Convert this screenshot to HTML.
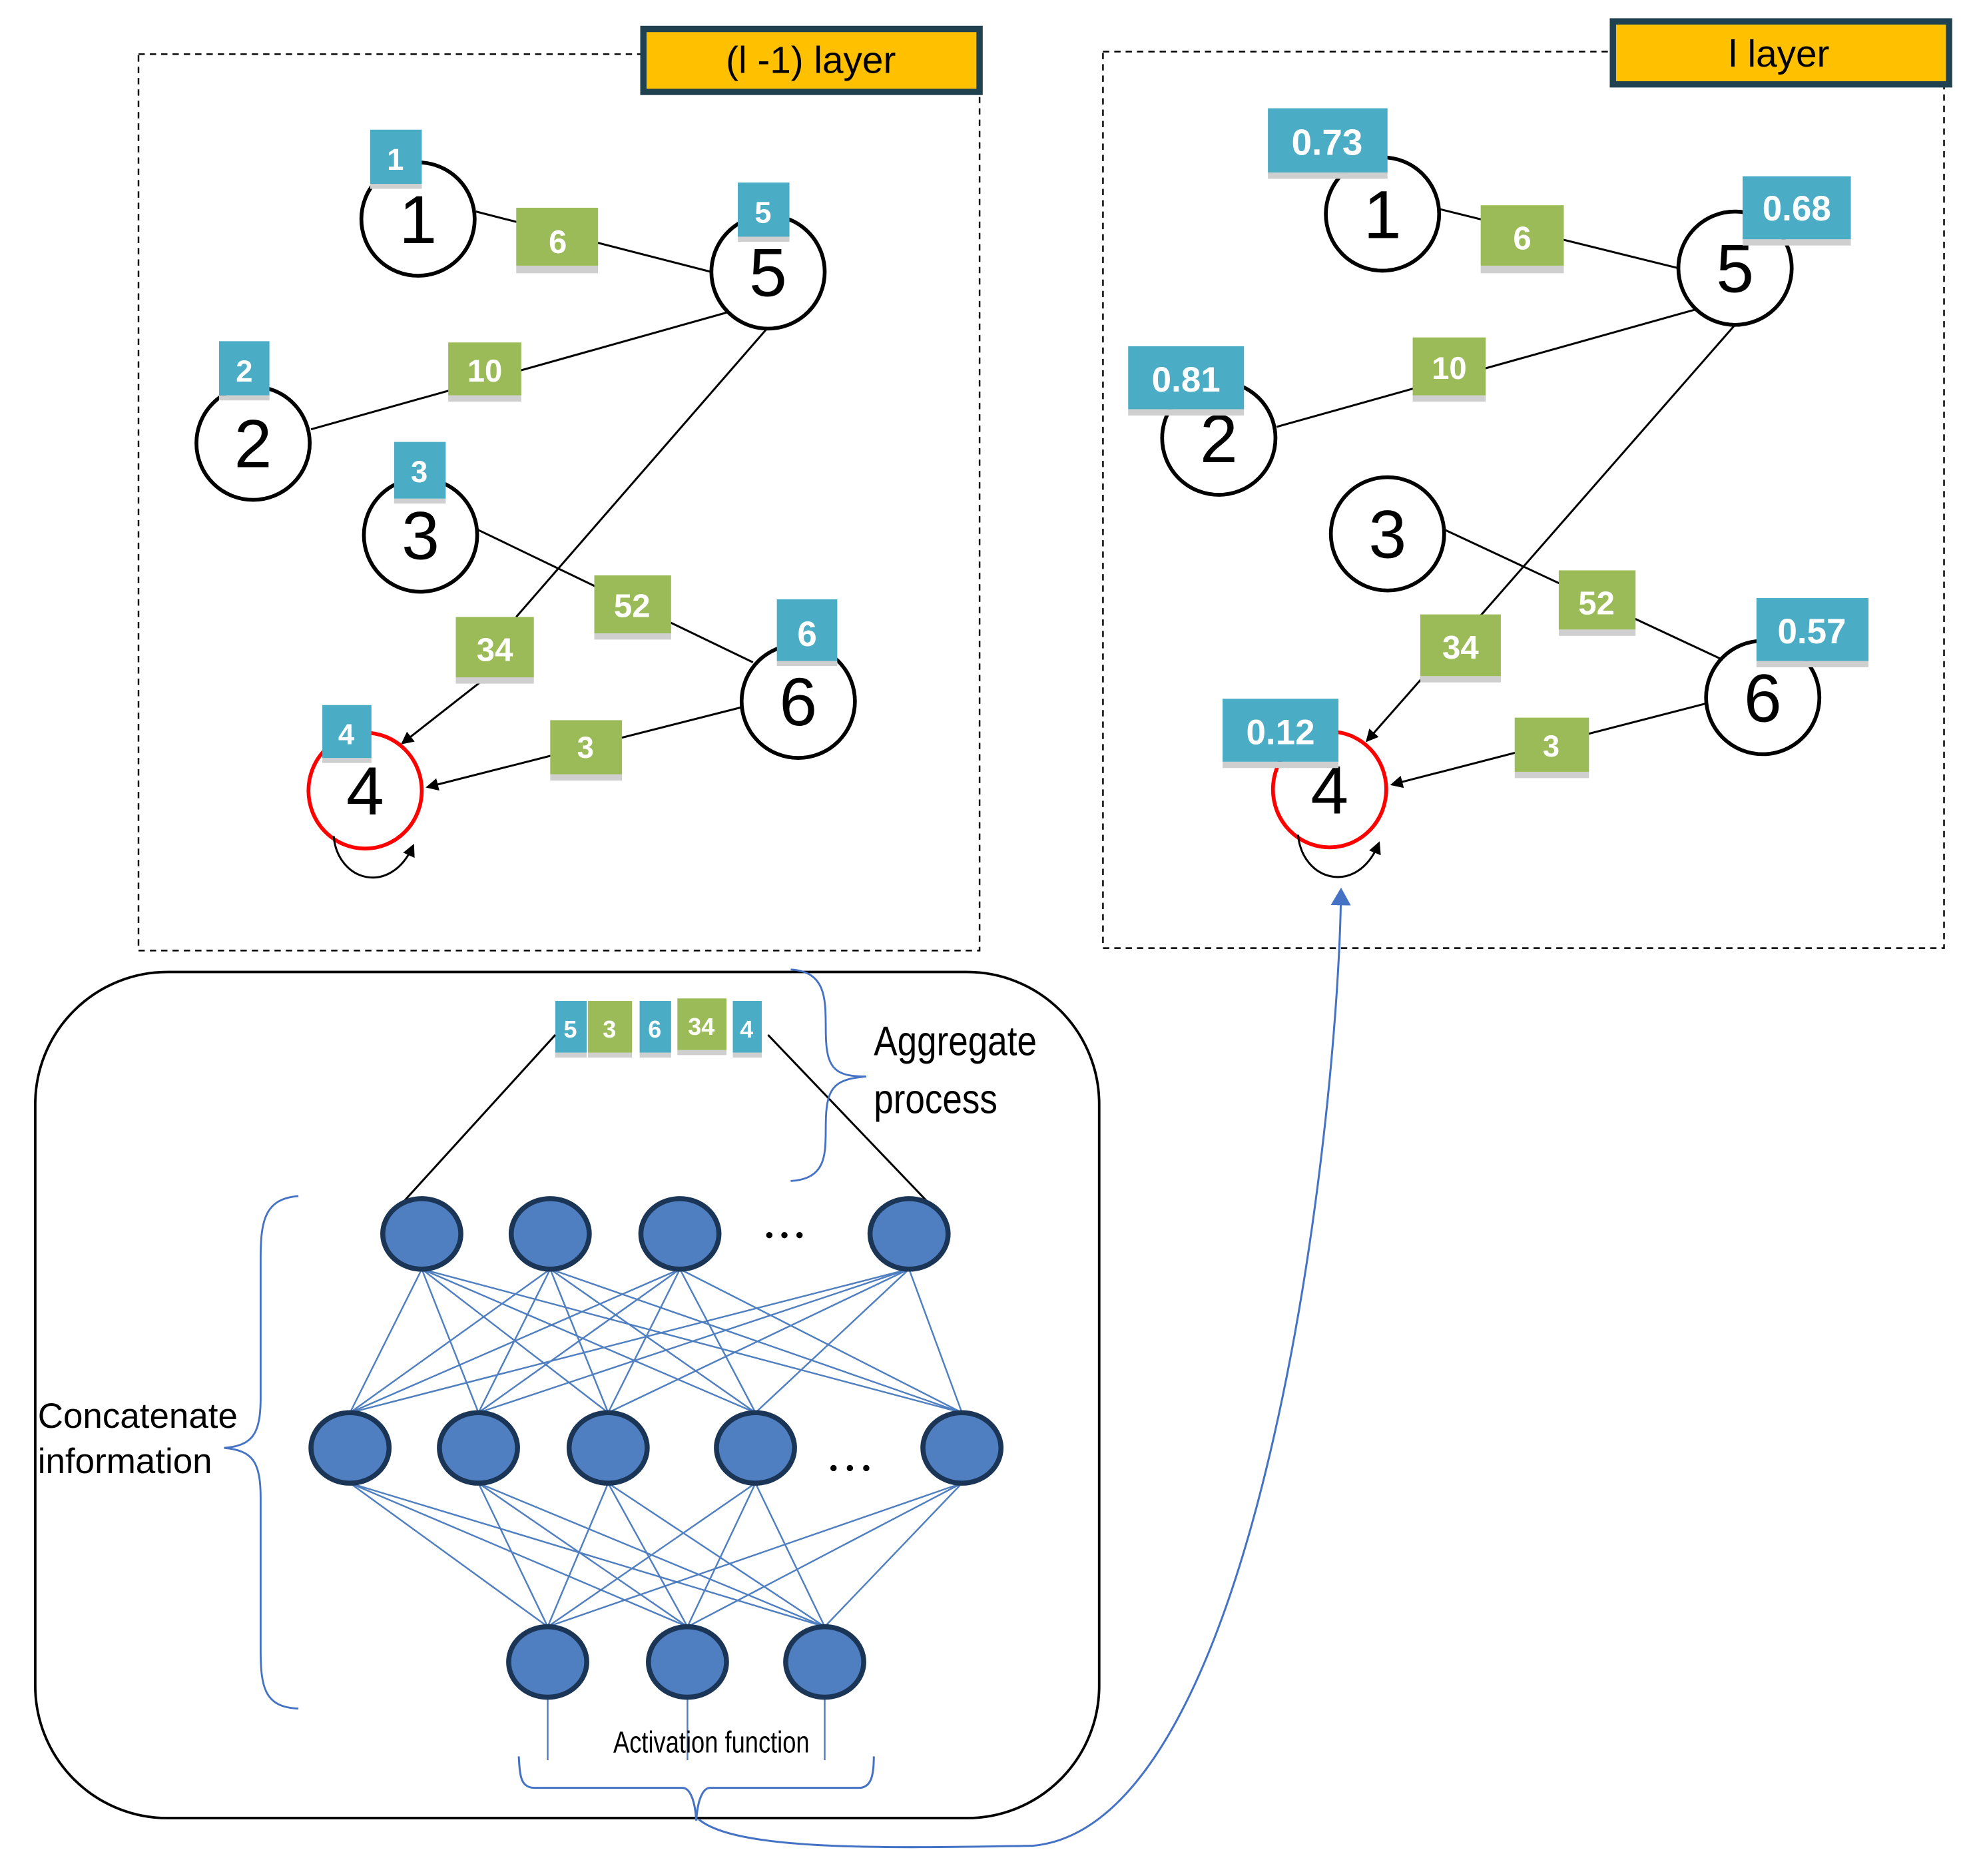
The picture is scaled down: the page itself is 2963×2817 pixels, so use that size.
<!DOCTYPE html>
<html><head><meta charset="utf-8"><style>
html,body{margin:0;padding:0;background:#fff;}
svg{display:block;}
text{font-family:"Liberation Sans",sans-serif;}
.bl{fill:#4BACC6;}
.gr{fill:#9BBB59;}
.sh{fill:#cfcfcf;}
.lt{fill:#fff;font-weight:bold;text-anchor:middle;}
.nd{fill:#fff;stroke:#000;stroke-width:3;}
.nt{font-size:54px;text-anchor:middle;fill:#000;}
.e{stroke:#000;stroke-width:1.6;fill:none;}
.n{fill:#4F7FC0;stroke:#1B3557;stroke-width:4;}
.w{stroke:#4F7FC0;stroke-width:1.3;}
</style></head><body>
<svg width="2963" height="2817" viewBox="0 0 1567 1490" preserveAspectRatio="none" xmlns="http://www.w3.org/2000/svg">
<defs>
<marker id="ah" markerWidth="10" markerHeight="10" refX="8" refY="5" orient="auto" markerUnits="userSpaceOnUse"><path d="M0,0 L10,5 L0,10 z" fill="#000"/></marker>
<marker id="bh" markerWidth="14" markerHeight="16" refX="7" refY="8" orient="auto" markerUnits="userSpaceOnUse"><path d="M0,0 L14,8 L0,16 z" fill="#4472C4"/></marker>
</defs>

<!-- LEFT PANEL -->
<rect x="110" y="43" width="668" height="712" fill="none" stroke="#000" stroke-width="1.3" stroke-dasharray="5,4"/>
<rect x="511" y="23" width="267" height="50" fill="#FFC000" stroke="#1F4150" stroke-width="5"/>
<text x="644" y="58" font-size="30" text-anchor="middle">(l -1) layer</text>

<line class="e" x1="378" y1="168" x2="565" y2="216"/>
<line class="e" x1="247" y1="341" x2="578" y2="248"/>
<line class="e" x1="610" y1="260" x2="410" y2="490"/>
<line class="e" x1="385" y1="539" x2="320" y2="590" marker-end="url(#ah)"/>
<line class="e" x1="380" y1="421" x2="598" y2="526"/>
<line class="e" x1="588" y1="562" x2="340" y2="625" marker-end="url(#ah)"/>

<circle class="nd" cx="332" cy="174" r="45"/><text class="nt" x="332" y="193">1</text>
<circle class="nd" cx="610" cy="216" r="45"/><text class="nt" x="610" y="235">5</text>
<circle class="nd" cx="201" cy="352" r="45"/><text class="nt" x="201" y="371">2</text>
<circle class="nd" cx="334" cy="425" r="45"/><text class="nt" x="334" y="444">3</text>
<circle class="nd" cx="634" cy="557" r="45"/><text class="nt" x="634" y="576">6</text>
<ellipse cx="290" cy="628" rx="45" ry="46" fill="#fff" stroke="#f00" stroke-width="3"/><text class="nt" x="290" y="647">4</text>
<path class="e" d="M265,664 C268,700 310,712 328,672" marker-end="url(#ah)"/>

<g>
<rect class="sh" x="410" y="211" width="65" height="6"/><rect class="gr" x="410" y="165" width="65" height="46"/><text class="lt" x="443" y="201" font-size="26">6</text>
<rect class="sh" x="356" y="314" width="58" height="5"/><rect class="gr" x="356" y="272" width="58" height="42"/><text class="lt" x="385" y="303" font-size="25">10</text>
<rect class="sh" x="472" y="503" width="61" height="5"/><rect class="gr" x="472" y="457" width="61" height="46"/><text class="lt" x="502" y="490" font-size="26">52</text>
<rect class="sh" x="362" y="538" width="62" height="5"/><rect class="gr" x="362" y="490" width="62" height="48"/><text class="lt" x="393" y="525" font-size="26">34</text>
<rect class="sh" x="437" y="615" width="57" height="5"/><rect class="gr" x="437" y="572" width="57" height="43"/><text class="lt" x="465" y="602" font-size="24">3</text>

<rect class="sh" x="294" y="146" width="41" height="4"/><rect class="bl" x="294" y="103" width="41" height="43"/><text class="lt" x="314" y="135" font-size="24">1</text>
<rect class="sh" x="586" y="188" width="41" height="4"/><rect class="bl" x="586" y="145" width="41" height="43"/><text class="lt" x="606" y="177" font-size="24">5</text>
<rect class="sh" x="174" y="314" width="40" height="4"/><rect class="bl" x="174" y="271" width="40" height="43"/><text class="lt" x="194" y="303" font-size="24">2</text>
<rect class="sh" x="313" y="396" width="41" height="4"/><rect class="bl" x="313" y="351" width="41" height="45"/><text class="lt" x="333" y="383" font-size="24">3</text>
<rect class="sh" x="617" y="525" width="48" height="4"/><rect class="bl" x="617" y="476" width="48" height="49"/><text class="lt" x="641" y="513" font-size="28">6</text>
<rect class="sh" x="256" y="602" width="39" height="4"/><rect class="bl" x="256" y="560" width="39" height="42"/><text class="lt" x="275" y="591" font-size="23">4</text>
</g>

<!-- RIGHT PANEL -->
<rect x="876" y="41" width="668" height="712" fill="none" stroke="#000" stroke-width="1.3" stroke-dasharray="5,4"/>
<rect x="1281" y="17" width="267" height="50" fill="#FFC000" stroke="#1F4150" stroke-width="5"/>
<text x="1413" y="53" font-size="30" text-anchor="middle">l layer</text>

<line class="e" x1="1143" y1="166" x2="1333" y2="213"/>
<line class="e" x1="1014" y1="339" x2="1346" y2="246"/>
<line class="e" x1="1378" y1="258" x2="1175" y2="490"/>
<line class="e" x1="1130" y1="538" x2="1086" y2="588" marker-end="url(#ah)"/>
<line class="e" x1="1148" y1="421" x2="1366" y2="523"/>
<line class="e" x1="1354" y1="559" x2="1106" y2="623" marker-end="url(#ah)"/>

<circle class="nd" cx="1098" cy="170" r="45"/><text class="nt" x="1098" y="189">1</text>
<circle class="nd" cx="1378" cy="213" r="45"/><text class="nt" x="1378" y="232">5</text>
<circle class="nd" cx="968" cy="348" r="45"/><text class="nt" x="968" y="367">2</text>
<circle class="nd" cx="1102" cy="424" r="45"/><text class="nt" x="1102" y="443">3</text>
<circle class="nd" cx="1400" cy="554" r="45"/><text class="nt" x="1400" y="573">6</text>
<ellipse cx="1056" cy="627" rx="45" ry="46" fill="#fff" stroke="#f00" stroke-width="3"/><text class="nt" x="1056" y="646">4</text>
<path class="e" d="M1031,663 C1034,700 1078,712 1095,670" marker-end="url(#ah)"/>

<g>
<rect class="sh" x="1176" y="211" width="66" height="6"/><rect class="gr" x="1176" y="163" width="66" height="48"/><text class="lt" x="1209" y="198" font-size="26">6</text>
<rect class="sh" x="1122" y="314" width="58" height="5"/><rect class="gr" x="1122" y="268" width="58" height="46"/><text class="lt" x="1151" y="301" font-size="25">10</text>
<rect class="sh" x="1238" y="500" width="61" height="5"/><rect class="gr" x="1238" y="453" width="61" height="47"/><text class="lt" x="1268" y="488" font-size="26">52</text>
<rect class="sh" x="1128" y="537" width="64" height="5"/><rect class="gr" x="1128" y="488" width="64" height="49"/><text class="lt" x="1160" y="523" font-size="26">34</text>
<rect class="sh" x="1203" y="613" width="59" height="5"/><rect class="gr" x="1203" y="570" width="59" height="43"/><text class="lt" x="1232" y="601" font-size="24">3</text>

<rect class="sh" x="1007" y="137" width="95" height="5"/><rect class="bl" x="1007" y="86" width="95" height="51"/><text class="lt" x="1054" y="123" font-size="29">0.73</text>
<rect class="sh" x="1384" y="190" width="86" height="5"/><rect class="bl" x="1384" y="140" width="86" height="50"/><text class="lt" x="1427" y="175" font-size="28">0.68</text>
<rect class="sh" x="896" y="325" width="92" height="5"/><rect class="bl" x="896" y="275" width="92" height="50"/><text class="lt" x="942" y="311" font-size="28">0.81</text>
<rect class="sh" x="1395" y="525" width="89" height="5"/><rect class="bl" x="1395" y="475" width="89" height="50"/><text class="lt" x="1439" y="511" font-size="28">0.57</text>
<rect class="sh" x="971" y="605" width="92" height="5"/><rect class="bl" x="971" y="555" width="92" height="50"/><text class="lt" x="1017" y="591" font-size="28">0.12</text>
</g>

<!-- BOTTOM BOX -->
<rect x="28" y="772" width="845" height="672" rx="105" ry="105" fill="none" stroke="#000" stroke-width="2"/>

<g>
<rect class="sh" x="441" y="836" width="25" height="4"/><rect class="bl" x="441" y="795" width="25" height="41"/><text class="lt" x="453" y="824" font-size="19">5</text>
<rect class="sh" x="467" y="836" width="35" height="4"/><rect class="gr" x="467" y="795" width="35" height="41"/><text class="lt" x="484" y="824" font-size="19">3</text>
<rect class="sh" x="508" y="836" width="25" height="4"/><rect class="bl" x="508" y="795" width="25" height="41"/><text class="lt" x="520" y="824" font-size="19">6</text>
<rect class="sh" x="538" y="834" width="39" height="4"/><rect class="gr" x="538" y="793" width="39" height="41"/><text class="lt" x="557" y="822" font-size="19">34</text>
<rect class="sh" x="582" y="836" width="23" height="4"/><rect class="bl" x="582" y="795" width="23" height="41"/><text class="lt" x="593" y="824" font-size="19">4</text>
</g>
<line class="e" x1="441" y1="822" x2="320" y2="955"/>
<line class="e" x1="610" y1="822" x2="740" y2="958"/>

<path d="M628,770 C660,772 655,800 656,825 C657,850 665,855 688,855 C665,857 657,862 656,887 C655,912 660,936 628,938" fill="none" stroke="#4472C4" stroke-width="1.5"/>
<text x="694" y="838" font-size="33" transform="translate(694,0) scale(0.85,1) translate(-694,0)">Aggregate</text>
<text x="694" y="884" font-size="33" transform="translate(694,0) scale(0.85,1) translate(-694,0)">process</text>

<path d="M237,950 C210,952 207,970 207,1000 L207,1110 C207,1140 200,1148 178,1150 C200,1152 207,1160 207,1190 L207,1310 C207,1340 210,1356 237,1357" fill="none" stroke="#4472C4" stroke-width="1.5"/>
<text x="30" y="1134" font-size="28">Concatenate</text>
<text x="30" y="1170" font-size="28">information</text>

<!-- weights -->
<g class="w">
<line x1="335" y1="1008" x2="278" y2="1122"/><line x1="335" y1="1008" x2="380" y2="1122"/><line x1="335" y1="1008" x2="483" y2="1122"/><line x1="335" y1="1008" x2="600" y2="1122"/><line x1="335" y1="1008" x2="764" y2="1122"/>
<line x1="437" y1="1008" x2="278" y2="1122"/><line x1="437" y1="1008" x2="380" y2="1122"/><line x1="437" y1="1008" x2="483" y2="1122"/><line x1="437" y1="1008" x2="600" y2="1122"/><line x1="437" y1="1008" x2="764" y2="1122"/>
<line x1="540" y1="1008" x2="278" y2="1122"/><line x1="540" y1="1008" x2="380" y2="1122"/><line x1="540" y1="1008" x2="483" y2="1122"/><line x1="540" y1="1008" x2="600" y2="1122"/><line x1="540" y1="1008" x2="764" y2="1122"/>
<line x1="722" y1="1008" x2="278" y2="1122"/><line x1="722" y1="1008" x2="380" y2="1122"/><line x1="722" y1="1008" x2="483" y2="1122"/><line x1="722" y1="1008" x2="600" y2="1122"/><line x1="722" y1="1008" x2="764" y2="1122"/>
<line x1="278" y1="1178" x2="435" y2="1292"/><line x1="278" y1="1178" x2="546" y2="1292"/><line x1="278" y1="1178" x2="655" y2="1292"/>
<line x1="380" y1="1178" x2="435" y2="1292"/><line x1="380" y1="1178" x2="546" y2="1292"/><line x1="380" y1="1178" x2="655" y2="1292"/>
<line x1="483" y1="1178" x2="435" y2="1292"/><line x1="483" y1="1178" x2="546" y2="1292"/><line x1="483" y1="1178" x2="655" y2="1292"/>
<line x1="600" y1="1178" x2="435" y2="1292"/><line x1="600" y1="1178" x2="546" y2="1292"/><line x1="600" y1="1178" x2="655" y2="1292"/>
<line x1="764" y1="1178" x2="435" y2="1292"/><line x1="764" y1="1178" x2="546" y2="1292"/><line x1="764" y1="1178" x2="655" y2="1292"/>
<line x1="435" y1="1348" x2="435" y2="1398"/><line x1="546" y1="1348" x2="546" y2="1398"/><line x1="655" y1="1348" x2="655" y2="1398"/>
</g>

<ellipse class="n" cx="335" cy="980" rx="31" ry="28"/>
<ellipse class="n" cx="437" cy="980" rx="31" ry="28"/>
<ellipse class="n" cx="540" cy="980" rx="31" ry="28"/>
<ellipse class="n" cx="722" cy="980" rx="31" ry="28"/>
<g fill="#000"><circle cx="611" cy="981" r="2.5"/><circle cx="623" cy="981" r="2.5"/><circle cx="635" cy="981" r="2.5"/></g>

<ellipse class="n" cx="278" cy="1150" rx="31" ry="28"/>
<ellipse class="n" cx="380" cy="1150" rx="31" ry="28"/>
<ellipse class="n" cx="483" cy="1150" rx="31" ry="28"/>
<ellipse class="n" cx="600" cy="1150" rx="31" ry="28"/>
<ellipse class="n" cx="764" cy="1150" rx="31" ry="28"/>
<g fill="#000"><circle cx="662" cy="1166" r="2.5"/><circle cx="675" cy="1166" r="2.5"/><circle cx="688" cy="1166" r="2.5"/></g>

<ellipse class="n" cx="435" cy="1320" rx="31" ry="28"/>
<ellipse class="n" cx="546" cy="1320" rx="31" ry="28"/>
<ellipse class="n" cx="655" cy="1320" rx="31" ry="28"/>

<text x="565" y="1392" font-size="24" text-anchor="middle" transform="translate(565,0) scale(0.8,1) translate(-565,0)">Activation  function</text>

<path d="M412,1395 C413,1410 413,1420 425,1420 L542,1420 C548,1420 552,1430 553,1446 C554,1430 558,1420 564,1420 L682,1420 C692,1420 694,1410 694,1395" fill="none" stroke="#4472C4" stroke-width="1.6"/>
<path d="M555,1445 C585,1470 700,1468 820,1466 C1000,1450 1062,900 1065,712" fill="none" stroke="#4472C4" stroke-width="1.6" marker-end="url(#bh)"/>
</svg>
</body></html>
